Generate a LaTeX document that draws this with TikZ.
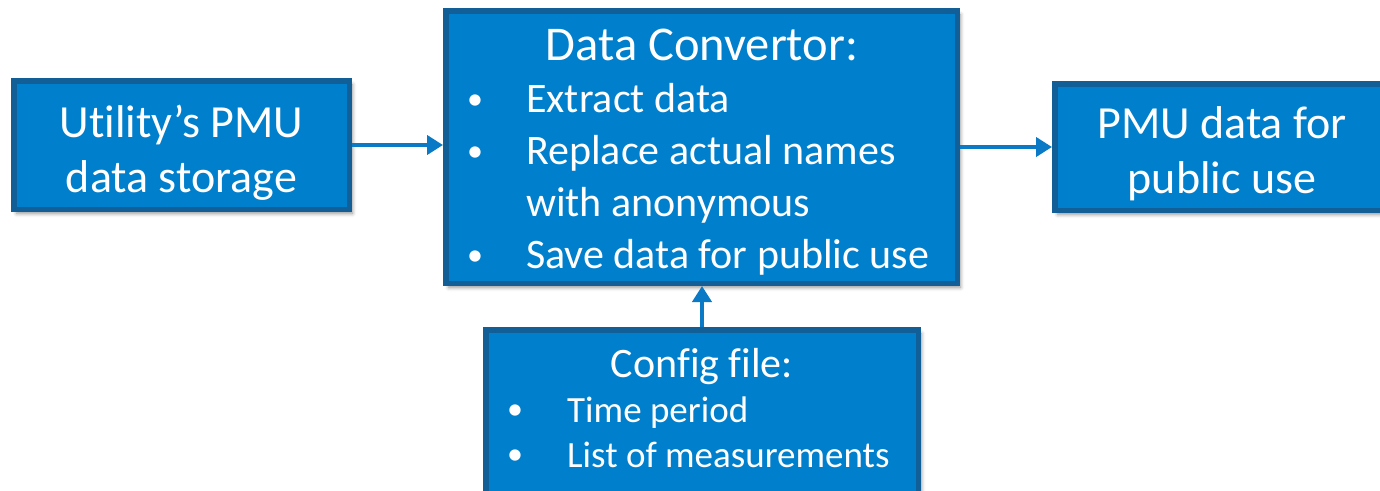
\documentclass[tikz,border=0pt]{standalone}
\usepackage{fontspec}
\setmainfont{Carlito}[Ligatures=NoCommon]
\usetikzlibrary{shadows.blur,arrows.meta}
\definecolor{boxfill}{RGB}{0,127,204}
\definecolor{boxline}{RGB}{18,94,150}
\definecolor{arrowblue}{RGB}{10,122,198}
\newcommand{\smallbullet}[1]{\makebox[#1][l]{\hspace{1pt}\raisebox{3pt}{\fontsize{32}{32}\selectfont\textbullet}}}
\tikzset{
  block/.style={rectangle, draw=boxline, line width=5.5pt, fill=boxfill, inner sep=0pt,
    blur shadow={shadow xshift=3pt, shadow yshift=-4pt, shadow blur radius=4pt, shadow opacity=45}},
  bigtxt/.style={text=white, inner sep=0pt, font=\fontsize{46}{55}\selectfont},
  midtxt/.style={text=white, inner sep=0pt, font=\fontsize{42}{52}\selectfont},
  smalltxt/.style={text=white, inner sep=0pt, font=\fontsize{37}{45}\selectfont},
  flow/.style={draw=arrowblue, line width=4pt, -{Triangle[length=16pt,width=19pt]}}
}
\begin{document}
\begin{tikzpicture}[x=1pt,y=1pt]
\useasboundingbox (0,0) rectangle (1380,-490);
\clip (0,0) rectangle (1380,-490);

% boxes
\node[block, minimum width=335.5pt, minimum height=128.5pt] (store) at (181.5,-145) {};
\node[block, minimum width=511.5pt, minimum height=272.5pt] (conv) at (701.5,-147) {};
\node[block, minimum width=334.5pt, minimum height=126.5pt] (pub) at (1222,-147) {};
\node[block, minimum width=432.5pt, minimum height=172.5pt] (cfg) at (702,-416) {};

% texts
\node[bigtxt, anchor=base] (storetxt) at (181.5,-137)
  {\begin{tabular}[t]{@{}c@{}}Utility’s PMU\\ data storage\end{tabular}};
\node[bigtxt, anchor=base] (pubtxt) at (1222,-138)
  {\begin{tabular}[t]{@{}c@{}}PMU data for\\ public use\end{tabular}};

\node[text=white, inner sep=0pt, font=\fontsize{48.5}{52}\selectfont, anchor=base] (convtitle) at (702,-60) {Data Convertor:};
\node[midtxt, anchor=base west] (convlist) at (466,-112)
  {\begin{tabular}[t]{@{}l@{}l@{}}
   \smallbullet{60pt} & Extract data\\
   \smallbullet{60pt} & Replace actual names\\
   & with anonymous\\
   \smallbullet{60pt} & Save data for public use
   \end{tabular}};

\node[text=white, inner sep=0pt, font=\fontsize{42}{45}\selectfont, anchor=base] (cfgtitle) at (702,-377) {Config file:};
\node[smalltxt, anchor=base west] (cfglist) at (506,-422)
  {\begin{tabular}[t]{@{}l@{}l@{}}
   \smallbullet{61pt} & Time period\\
   \smallbullet{61pt} & List of measurements
   \end{tabular}};

% connectors
\draw[flow] (store.east) -- (store.east -| conv.west);
\draw[flow] (conv.east |- pub.west) -- (pub.west);
\draw[flow] (cfg.north) -- (cfg.north |- conv.south);
\end{tikzpicture}
\end{document}
